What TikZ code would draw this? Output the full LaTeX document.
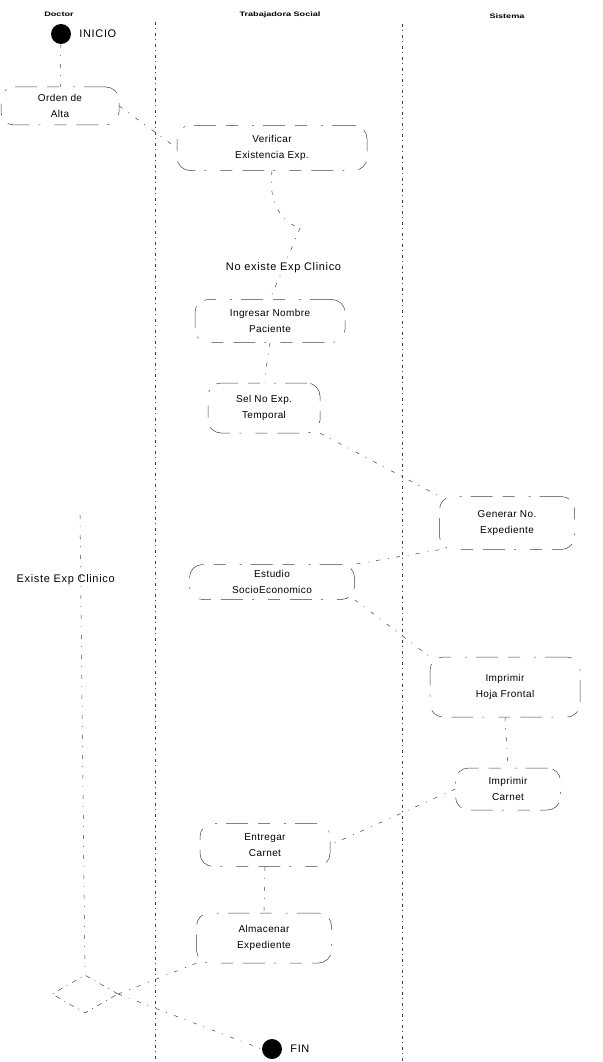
\documentclass[tikz,border=0pt]{standalone}
\usepackage{fontspec}
\setmainfont{Liberation Sans}
\usetikzlibrary{shapes.geometric}

\tikzset{
  act/.style={draw=black!75, line width=0.5pt,
    dash pattern=on 22pt off 9pt on 2pt off 14pt on 12pt off 10pt,
    rounded corners=13pt, align=center, inner sep=2pt,
    font=\fontsize{10}{15.5}\selectfont\addfontfeature{LetterSpace=4}},
  flow/.style={draw=black!75, line width=0.5pt,
    dash pattern=on 4pt off 7pt on 1pt off 8pt},
  lane/.style={draw=black!75, line width=0.6pt,
    dash pattern=on 3pt off 3pt on 1pt off 4pt},
  endpt/.style={circle, fill=black, minimum size=20pt, inner sep=0pt},
  hdr/.style={font=\fontsize{6.5}{7}\selectfont\bfseries, xscale=1.4},
  lbl/.style={font=\fontsize{11}{13}\selectfont\addfontfeature{LetterSpace=6}, inner sep=1pt},
  mergebox/.style={diamond, aspect=1.75, draw=black!75, line width=0.5pt,
    dash pattern=on 5pt off 5pt on 1pt off 5pt,
    minimum width=66pt, minimum height=38pt, inner sep=0pt}
}

\begin{document}
\begin{tikzpicture}[x=1pt, y=-1pt]
\useasboundingbox (0,0) rectangle (602,1062);

% lane headers
\node[hdr] (hdoc) at (59,14) {Doctor};
\node[hdr] (hts)  at (280,15) {Trabajadora Social};
\node[hdr] (hsis) at (507,16) {Sistema};

% lane dividers
\coordinate (l1t) at (155,22);  \coordinate (l1b) at (155,1062);
\coordinate (l2t) at (402,24);  \coordinate (l2b) at (402,1062);
\draw[lane] (l1t) -- (l1b);
\draw[lane] (l2t) -- (l2b);

% start
\node[endpt] (ini) at (61,34) {};
\node[lbl, anchor=west] (inilbl) at ([xshift=7pt]ini.east) {INICIO};

% activities
\node[act, minimum width=118pt, minimum height=38pt] (orden) at (60,106) {Orden de\\Alta};
\node[act, minimum width=190pt, minimum height=45pt] (verif) at (272,148) {Verificar\\Existencia Exp.};
\node[act, minimum width=150pt, minimum height=43pt] (ingr) at (270,321) {Ingresar Nombre\\Paciente};
\node[act, minimum width=112pt, minimum height=50pt] (sel) at (264,408) {Sel No Exp.\\Temporal};
\node[act, minimum width=135pt, minimum height=53pt] (gen) at (507,523) {Generar No.\\Expediente};
\node[act, minimum width=165pt, minimum height=35pt] (est) at (272,582) {Estudio\\SocioEconomico};
\node[act, minimum width=150pt, minimum height=60pt] (hoja) at (505,687) {Imprimir\\Hoja Frontal};
\node[act, minimum width=105pt, minimum height=42pt] (carn) at (508,789) {Imprimir\\Carnet};
\node[act, minimum width=130pt, minimum height=43pt] (entr) at (265,845) {Entregar\\Carnet};
\node[act, minimum width=135pt, minimum height=50pt] (alm) at (264,938) {Almacenar\\Expediente};

% merge and end
\node[mergebox] (mrg) at (85,994) {};
\node[endpt] (fin) at (272,1049) {};
\node[lbl, anchor=west] (finlbl) at ([xshift=7pt]fin.east) {FIN};

% decision point below the check
\coordinate (dec) at (300,228);
\coordinate (exs) at (80,515);

% flows
\draw[flow] (ini) -- (orden);
\draw[flow] (orden.east) -- (verif.west);
\draw[flow] (verif.south) .. controls (268,200) and (280,222) .. (dec);
\draw[flow] (dec) -- (ingr.north) node[lbl, pos=0.55, fill=white] (lno) {No existe Exp Clinico};
\draw[flow] (exs) -- (mrg.north) node[lbl, pos=0.14, xshift=-15pt] (lyes) {Existe Exp Clinico};
\draw[flow] (ingr.south) -- (sel.north);
\draw[flow] (sel.south east) -- (gen.north west);
\draw[flow] (gen.south west) -- (est.north east);
\draw[flow] (est.south east) -- (hoja.north west);
\draw[flow] (hoja.south) -- (carn.north);
\draw[flow] (carn.west) -- (entr.east);
\draw[flow] (entr.south) -- (alm.north);
\draw[flow] (alm.south west) -- (mrg.east);
\draw[flow] (mrg.east) -- (fin.west);
\end{tikzpicture}
\end{document}
